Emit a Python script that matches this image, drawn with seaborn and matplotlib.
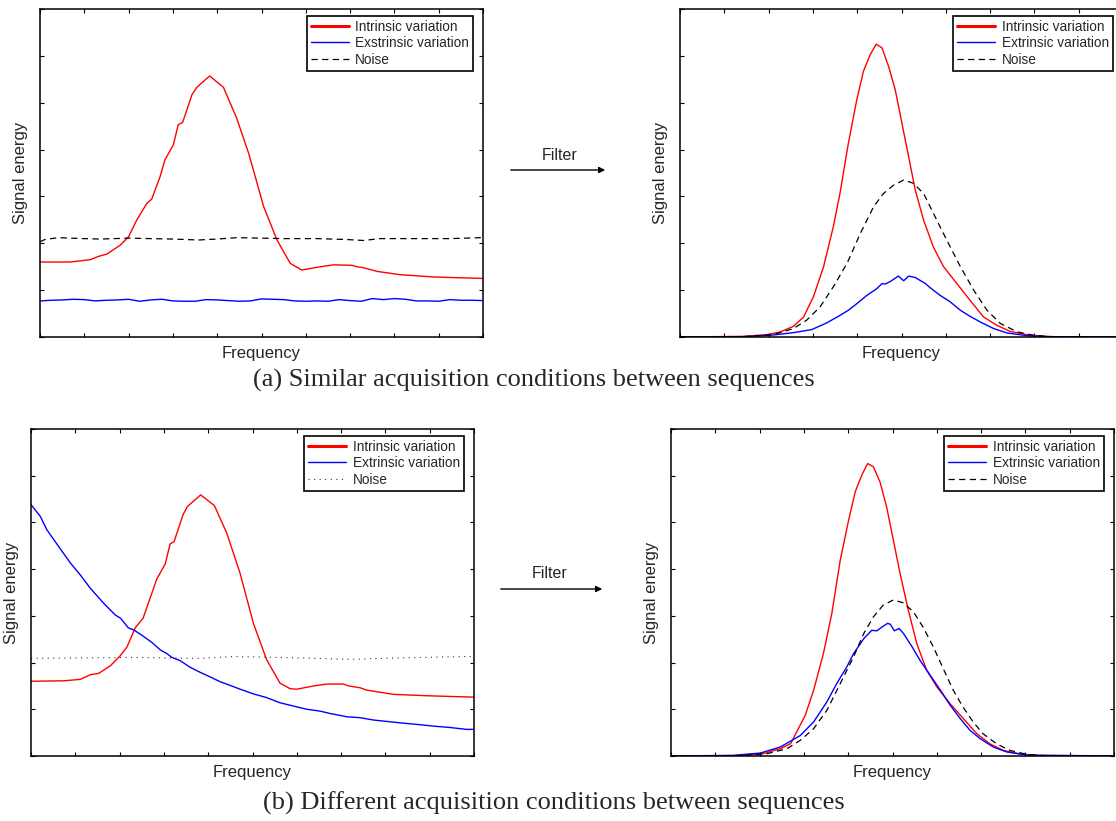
import numpy as np
import pandas as pd
import matplotlib
matplotlib.use("Agg")
import matplotlib.pyplot as plt
from matplotlib.lines import Line2D
import seaborn as sns

sns.set_style("ticks")
plt.rcParams['font.family'] = ['Liberation Sans', 'DejaVu Sans']

# ---------------- data (x: 0-100, y: 0-70) ----------------
# (a) left : before filter
a_red_x = [0, 6.8, 11.3, 13.2, 15.1, 18.1, 20.0, 21.8, 24.1, 25.2, 27.1, 28.2, 30.1, 31.2, 32.2,
           34.3, 35.4, 38.3, 41.4, 44.4, 47.1, 50.5, 53.5, 56.5, 59.1, 63.3, 66.3, 70.4, 71.5,
           73.0, 76.1, 81.3, 88.9, 100]
a_red_y = [16.0, 16.0, 16.5, 17.2, 17.7, 19.6, 21.4, 24.9, 28.5, 29.4, 34.2, 37.8, 41.0, 45.3, 45.8,
           51.7, 53.3, 55.7, 53.3, 46.7, 39.2, 27.8, 20.7, 15.7, 14.3, 15.0, 15.4, 15.3, 15.0,
           14.8, 14.0, 13.3, 12.8, 12.5]
a_blue_x = list(np.arange(0, 100.1, 2.5))
a_blue_y = [7.70, 7.84, 7.91, 8.05, 7.98, 7.70, 7.84, 7.91, 8.05, 7.63, 7.91, 8.05, 7.70, 7.63,
            7.63, 7.98, 7.91, 7.77, 7.63, 7.70, 8.13, 8.05, 7.98, 7.70, 7.63, 7.70, 7.63, 7.98,
            7.77, 7.63, 8.20, 7.98, 8.20, 8.05, 7.70, 7.70, 7.63, 7.98, 7.84, 7.84, 7.77]
a_noise_x = [0, 1.1, 4.1, 9.8, 13.6, 20.0, 24.8, 30.1, 35.8, 39.9, 44.4, 49.7, 55.0, 62.5, 69.3,
             73.0, 76.8, 85.1, 92.6, 99.4, 100]
a_noise_y = [20.3, 20.8, 21.2, 21.0, 20.9, 21.1, 21.0, 20.9, 20.7, 20.9, 21.2, 21.1, 21.0, 21.0,
             20.8, 20.6, 21.0, 21.0, 21.0, 21.2, 21.0]

# (a) right : after filter
af_red_x = [0, 14.3, 19.6, 22.6, 25.6, 27.9, 30.1, 32.4, 34.6, 36.1, 38.0, 39.9, 41.4, 42.9, 44.3,
            45.6, 47.1, 48.6, 50.1, 51.6, 53.1, 55.0, 57.2, 59.5, 62.5, 65.5, 68.5, 71.5, 74.5,
            78.3, 82.1, 87.3, 100]
af_red_y = [0, 0.14, 0.5, 1.07, 2.28, 4.28, 8.55, 14.97, 23.5, 30.6, 41.3, 50.6, 56.7, 60.2, 62.5,
            61.7, 57.7, 52.7, 45.6, 38.5, 31.4, 24.9, 19.2, 15.0, 11.4, 7.8, 4.3, 2.5, 1.2,
            0.5, 0.14, 0, 0]
af_blue_x = [0, 14.3, 21.1, 25.6, 29.7, 33.1, 36.1, 38.0, 39.9, 42.2, 44.4, 45.6, 46.3, 47.4, 49.3,
             50.5, 51.6, 53.1, 55.4, 56.5, 58.7, 61.0, 63.3, 65.5, 67.8, 70.8, 73.8, 78.3, 83.6, 100]
af_blue_y = [0, 0.07, 0.43, 0.93, 1.57, 3.0, 4.6, 5.7, 7.1, 8.9, 10.3, 11.4, 11.3, 11.8, 13.0,
             12.0, 13.0, 12.7, 11.4, 10.5, 8.9, 7.5, 5.7, 4.4, 3.2, 1.8, 0.86, 0.29, 0.07, 0]
af_noise_x = [0, 14.3, 21.1, 25.6, 28.6, 31.6, 34.6, 37.7, 40.7, 43.7, 45.9, 48.2, 50.5, 52.7, 55.0,
              57.2, 60.2, 63.3, 66.3, 69.3, 72.3, 76.1, 79.8, 83.6, 100]
af_noise_y = [0, 0.07, 0.5, 1.8, 3.6, 6.4, 10.7, 15.7, 22.1, 27.8, 30.6, 32.4, 33.5, 32.8, 30.6,
              26.4, 20.7, 15.0, 10.0, 5.7, 2.9, 1.1, 0.36, 0.07, 0]

# (b) left : before filter
b_red_x = [0, 7.4, 11.1, 13.4, 15.3, 17.9, 20.1, 21.7, 23.5, 25.3, 27.3, 28.4, 30.3, 31.4, 32.3,
           34.3, 35.3, 38.3, 41.4, 44.2, 47.2, 50.2, 53.2, 56.2, 58.5, 60.0, 63.8, 66.8, 70.5,
           71.7, 74.3, 75.8, 81.8, 89.3, 100]
b_red_y = [16.0, 16.1, 16.4, 17.4, 17.7, 19.3, 21.4, 23.4, 27.4, 29.5, 34.9, 37.9, 41.1, 45.4, 45.9,
           51.6, 53.4, 55.9, 53.6, 47.7, 39.1, 28.4, 20.6, 15.6, 14.4, 14.3, 15.0, 15.4, 15.4,
           15.0, 14.6, 14.1, 13.2, 12.9, 12.6]
b_blue_x = [0, 2.1, 3.6, 6.2, 8.9, 11.1, 13.4, 16.4, 19.0, 20.2, 22.0, 23.2, 25.4, 27.3, 29.2,
            30.7, 31.8, 33.7, 35.9, 38.2, 40.5, 42.7, 45.0, 47.2, 50.2, 53.2, 56.2, 59.2, 62.3,
            65.3, 67.5, 71.3, 74.3, 77.3, 80.3, 83.3, 87.8, 90.8, 94.6, 98.3, 100]
b_blue_y = [53.8, 51.3, 48.4, 44.9, 41.3, 38.8, 35.9, 32.7, 30.2, 29.5, 27.4, 27.0, 25.6, 24.3, 22.7,
            21.9, 21.1, 20.4, 19.0, 17.9, 16.9, 15.9, 15.1, 14.3, 13.3, 12.5, 11.4, 10.7, 10.0,
            9.6, 9.1, 8.4, 8.2, 7.7, 7.4, 7.1, 6.7, 6.4, 6.1, 5.7, 5.7]
b_noise_x = [0, 23.2, 38.2, 45.7, 60.8, 72.0, 83.3, 98.3, 100]
b_noise_y = [20.9, 21.1, 20.9, 21.3, 21.0, 20.7, 21.0, 21.3, 21.3]

# (b) right : after filter
bf_red_x = [0, 14.1, 20.2, 24.7, 27.0, 30.3, 32.2, 34.4, 36.3, 38.2, 40.1, 41.6, 43.1, 44.4, 45.7,
            47.2, 48.7, 50.2, 51.7, 53.6, 55.5, 57.7, 60.0, 63.0, 66.0, 69.0, 72.0, 75.0, 78.8,
            83.3, 100]
bf_red_y = [0, 0.07, 0.36, 1.57, 2.64, 8.7, 14.1, 21.9, 30.5, 41.9, 50.5, 56.6, 60.2, 62.6, 61.9,
            58.6, 53.2, 46.2, 39.1, 31.1, 24.0, 18.4, 14.8, 11.2, 8.0, 4.8, 2.6, 1.2, 0.43,
            0.07, 0]
bf_blue_x = [0, 14.1, 20.2, 24.7, 29.2, 32.2, 35.2, 37.4, 39.7, 41.2, 43.5, 45.3, 46.5, 47.6, 48.9,
             49.5, 50.4, 51.5, 52.5, 54.4, 56.2, 58.5, 60.8, 63.0, 65.3, 67.5, 69.8, 72.8, 75.8,
             80.3, 100]
bf_blue_y = [0, 0.14, 0.64, 1.93, 4.4, 7.3, 11.6, 15.5, 19.1, 21.9, 25.1, 26.9, 26.8, 27.6, 28.4,
             28.2, 26.8, 27.3, 26.2, 23.4, 20.5, 17.3, 14.1, 10.9, 8.0, 5.5, 3.7, 1.9, 0.86,
             0.21, 0]
bf_noise_x = [0, 15.6, 21.7, 26.2, 29.2, 32.2, 35.2, 38.2, 41.2, 43.5, 45.7, 47.9, 50.2, 52.4, 54.7,
              56.9, 59.2, 61.4, 63.7, 65.9, 68.2, 70.4, 73.5, 76.5, 80.3, 84.1, 100]
bf_noise_y = [0, 0.07, 0.5, 1.57, 3.36, 5.86, 9.8, 15.5, 21.2, 26.2, 29.8, 32.3, 33.4, 32.8, 30.9,
              27.6, 23.4, 18.8, 14.1, 10.5, 7.3, 4.8, 2.6, 1.2, 0.36, 0.07, 0]

legend_a_left = ['Intrinsic variation', 'Exstrinsic variation', 'Noise']
legend_other = ['Intrinsic variation', 'Extrinsic variation', 'Noise']

RED = '#ff0000'
BLUE = '#0000ff'

W, H = 1116, 821
fig = plt.figure(figsize=(W / 100, H / 100), dpi=100)


def box(x0, y0, x1, y1):
    return [x0 / W, 1 - y1 / H, (x1 - x0) / W, (y1 - y0) / H]


def panel(rect, red, blue, noise, noise_style, labels):
    ax = fig.add_axes(rect)
    if noise_style == 'dotted':
        nls, nc, nlw = (0, (1, 4)), '#333333', 0.8
    else:
        nls, nc, nlw = (0, (5, 3.5)), 'black', 0.9
    sns.lineplot(x=red[0], y=red[1], ax=ax, color=RED, lw=1.0, sort=False)
    sns.lineplot(x=blue[0], y=blue[1], ax=ax, color=BLUE, lw=1.0, sort=False)
    sns.lineplot(x=noise[0], y=noise[1], ax=ax, color=nc, lw=nlw, sort=False, linestyle=nls)
    ax.set_xlim(0, 100)
    ax.set_ylim(0, 70)
    ax.set_xticks(np.arange(0, 101, 10))
    ax.set_yticks(np.arange(0, 71, 10))
    ax.set_xticklabels([])
    ax.set_yticklabels([])
    ax.tick_params(direction='in', length=3, width=0.8, top=True, right=True, color='black')
    for s in ax.spines.values():
        s.set_linewidth(1.1)
        s.set_color('black')
    ax.set_xlabel('Frequency', fontsize=12, labelpad=3)
    ax.set_ylabel('Signal energy', fontsize=12, labelpad=5)

    handles = [Line2D([], [], color=RED, lw=2.2),
               Line2D([], [], color=BLUE, lw=1.0),
               Line2D([], [], color=nc, lw=nlw, linestyle=nls)]
    leg = ax.legend(handles, labels, loc='upper right', bbox_to_anchor=(0.977, 0.98),
                    borderaxespad=0, fontsize=9.8, frameon=True, fancybox=False,
                    handlelength=2.8, handletextpad=0.45, labelspacing=0.18,
                    borderpad=0.3, framealpha=1)
    leg.get_frame().set_edgecolor('black')
    leg.get_frame().set_linewidth(1.2)
    return ax


panel(box(40, 9, 483, 337), (a_red_x, a_red_y), (a_blue_x, a_blue_y),
      (a_noise_x, a_noise_y), 'dashed', legend_a_left)
panel(box(680, 9, 1123, 337), (af_red_x, af_red_y), (af_blue_x, af_blue_y),
      (af_noise_x, af_noise_y), 'dashed', legend_other)
panel(box(31, 429, 474, 756), (b_red_x, b_red_y), (b_blue_x, b_blue_y),
      (b_noise_x, b_noise_y), 'dotted', legend_other)
panel(box(671, 429, 1114, 756), (bf_red_x, bf_red_y), (bf_blue_x, bf_blue_y),
      (bf_noise_x, bf_noise_y), 'dashed', legend_other)

# filter arrows
for (x0, x1, y, tx, ty) in [(508, 608, 170, 560, 155), (498, 605, 589, 550, 574)]:
    fig.add_artist(matplotlib.patches.FancyArrowPatch(
        (x0 / W, 1 - y / H), (x1 / W, 1 - y / H), transform=fig.transFigure,
        arrowstyle='-|>', mutation_scale=9, lw=1.0, color='black'))
    fig.text(tx / W, 1 - ty / H, 'Filter', ha='center', va='center', fontsize=11.5)

# captions
fig.text(534 / W, 1 - 380 / H, '(a) Similar acquisition conditions between sequences',
         ha='center', va='center', fontsize=19, family=['Liberation Serif', 'DejaVu Serif'])
fig.text(554 / W, 1 - 803 / H, '(b) Different acquisition conditions between sequences',
         ha='center', va='center', fontsize=19, family=['Liberation Serif', 'DejaVu Serif'])

fig.savefig('out.png', dpi=100)
